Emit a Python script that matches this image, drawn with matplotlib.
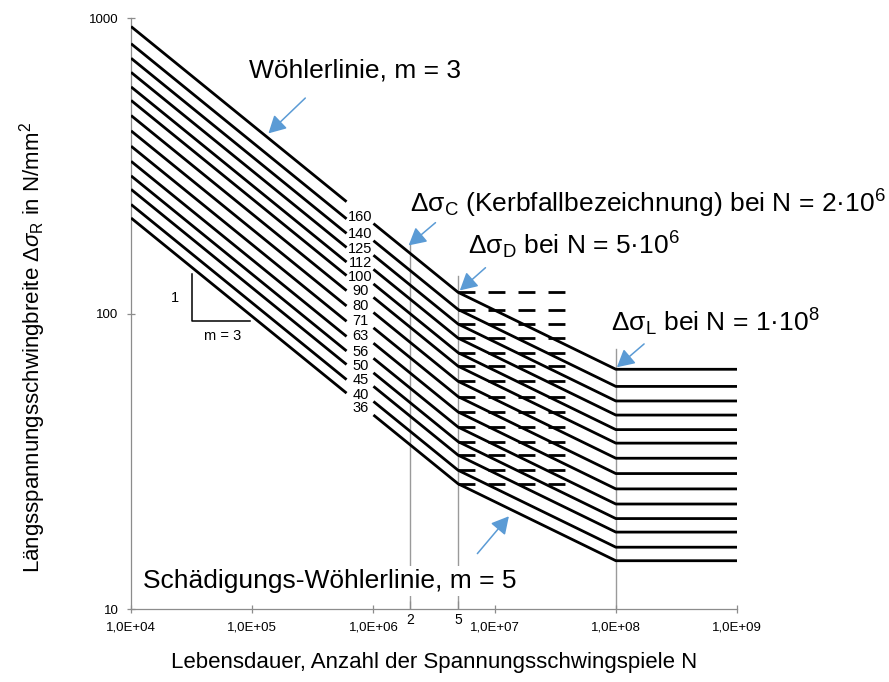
import numpy as np
import matplotlib
matplotlib.use('Agg')
import matplotlib.pyplot as plt
from matplotlib.ticker import FixedLocator, FixedFormatter

plt.rcParams['font.family'] = ['Liberation Sans', 'DejaVu Sans']
plt.rcParams['mathtext.fontset'] = 'custom'
plt.rcParams['mathtext.rm'] = 'Liberation Sans'
plt.rcParams['mathtext.it'] = 'Liberation Sans:italic'
plt.rcParams['mathtext.bf'] = 'Liberation Sans:bold'

# Kerbfaelle: delta sigma_C at N = 2e6, in N/mm2
KERBFALL = [160, 140, 125, 112, 100, 90, 80, 71, 63, 56, 50, 45, 40, 36]

N_C = 2e6   # reference cycles
N_D = 5e6   # constant amplitude fatigue limit
N_L = 1e8   # cut-off limit
M1 = 3
M2 = 5

# curve pieces, with a gap for the category labels
N_LEFT = [1e4, 6e5]
N_RIGHT = [1e6, N_C, N_D, N_L, 1e9]
N_DASH = [N_D, 3.9e7]
N_LABEL = 7.8e5

X_TICKS = [1e4, 1e5, 1e6, 1e7, 1e8, 1e9]
X_TICKLABELS = ['1,0E+04', '1,0E+05', '1,0E+06', '1,0E+07', '1,0E+08', '1,0E+09']
X_MINOR = [2e6, 5e6]
X_MINORLABELS = ['2', '5']
Y_TICKS = [10, 100, 1000]
Y_TICKLABELS = ['10', '100', '1000']

BLUE = '#5B9BD5'
GREY = '#9a9a9a'


def stress(dsc, n):
    n = np.asarray(n, dtype=float)
    ds_d = dsc * (N_C / N_D) ** (1 / M1)
    ds_l = ds_d * (N_D / N_L) ** (1 / M2)
    return np.where(n <= N_D, dsc * (N_C / n) ** (1 / M1),
                    np.where(n <= N_L, ds_d * (N_D / n) ** (1 / M2), ds_l))


def arrow(ax, tip, tail):
    ax.annotate('', xy=tip, xytext=tail,
                arrowprops=dict(arrowstyle='-|>,head_length=0.7,head_width=0.38',
                                color=BLUE, lw=1.1, mutation_scale=15,
                                shrinkA=0, shrinkB=0))


fig = plt.figure(figsize=(8.89, 6.82), dpi=100)
ax = fig.add_axes([0.1474, 0.107, 0.6817, 0.8666])
ax.set_xscale('log')
ax.set_yscale('log')
ax.set_xlim(1e4, 1e9)
ax.set_ylim(10, 1000)

for s in ['top', 'right']:
    ax.spines[s].set_visible(False)
for s in ['left', 'bottom']:
    ax.spines[s].set_color('#8c8c8c')
    ax.spines[s].set_linewidth(0.9)

ax.xaxis.set_major_locator(FixedLocator(X_TICKS))
ax.xaxis.set_major_formatter(FixedFormatter(X_TICKLABELS))
ax.xaxis.set_minor_locator(FixedLocator(X_MINOR))
ax.xaxis.set_minor_formatter(FixedFormatter(X_MINORLABELS))
ax.yaxis.set_major_locator(FixedLocator(Y_TICKS))
ax.yaxis.set_major_formatter(FixedFormatter(Y_TICKLABELS))
ax.yaxis.set_minor_locator(FixedLocator([]))
ax.tick_params(which='major', direction='inout', length=6, width=0.9,
               color='#8c8c8c', labelsize=9.5, pad=6)
ax.tick_params(axis='x', which='minor', direction='in', length=6, width=0.9,
               color='#8c8c8c', labelsize=10, pad=3)

# reference lines at N_C, N_D, N_L
ax.plot([N_C, N_C], [10, 170], color=GREY, lw=1, zorder=1)
ax.plot([N_D, N_D], [10, 134], color=GREY, lw=1, zorder=1)
ax.plot([N_L, N_L], [10, 76], color=GREY, lw=1, zorder=1)

for dsc in KERBFALL:
    ax.plot(N_LEFT, stress(dsc, N_LEFT), color='black', lw=2,
            solid_capstyle='butt', zorder=3)
    ax.plot(N_RIGHT, stress(dsc, N_RIGHT), color='black', lw=2,
            solid_capstyle='butt', zorder=3)
    ds_d = float(stress(dsc, N_D))
    ax.plot(N_DASH, [ds_d, ds_d], color='black', lw=2,
            linestyle=(0, (6.1, 4.7)), dash_capstyle='butt', zorder=3)
    ax.text(N_LABEL, float(stress(dsc, N_LABEL)) * 0.97, str(dsc),
            ha='center', va='center', fontsize=10.5, zorder=4)

# slope triangle
ax.plot([3.2e4, 3.2e4, 9.6e4], [94 * 3 ** (1 / 3), 94, 94], color='black', lw=1.1)
ax.text(2.3e4, 113, '1', ha='center', va='center', fontsize=10.5)
ax.text(5.7e4, 84, 'm = 3', ha='center', va='center', fontsize=10.5)

# annotations
ax.text(9.44e4, 627, 'Wöhlerlinie, m = 3', fontsize=19, va='baseline')
arrow(ax, (1.36e5, 407), (2.74e5, 536))

ax.text(2.02e6, 220, r'Δσ$_\mathrm{C}$ (Kerbfallbezeichnung) bei N = 2·10$^6$',
        fontsize=19, va='baseline')
arrow(ax, (1.95e6, 170), (3.25e6, 203))

ax.text(6.0e6, 158.5, r'Δσ$_\mathrm{D}$ bei N = 5·10$^6$', fontsize=19, va='baseline')
arrow(ax, (5.16e6, 119.7), (8.4e6, 142.9))

ax.text(9.2e7, 87.1, r'Δσ$_\mathrm{L}$ bei N = 1·10$^8$', fontsize=19, va='baseline')
arrow(ax, (1.02e8, 65.8), (1.71e8, 78.9))

ax.text(1.26e4, 11.75, 'Schädigungs-Wöhlerlinie, m = 5', fontsize=19, va='baseline',
        bbox=dict(facecolor='white', edgecolor='none', pad=2), zorder=5)
arrow(ax, (1.31e7, 20.6), (7.2e6, 15.4))

ax.set_xlabel('Lebensdauer, Anzahl der Spannungsschwingspiele N', fontsize=16)
ax.xaxis.set_label_coords(0.5, -0.072)
ax.set_ylabel(r'Längsspannungsschwingbreite $\Delta\sigma_\mathrm{R}$ in N/mm$^2$',
              fontsize=16)
ax.yaxis.set_label_coords(-0.137, 0.443)

fig.savefig('out.png', dpi=100)
